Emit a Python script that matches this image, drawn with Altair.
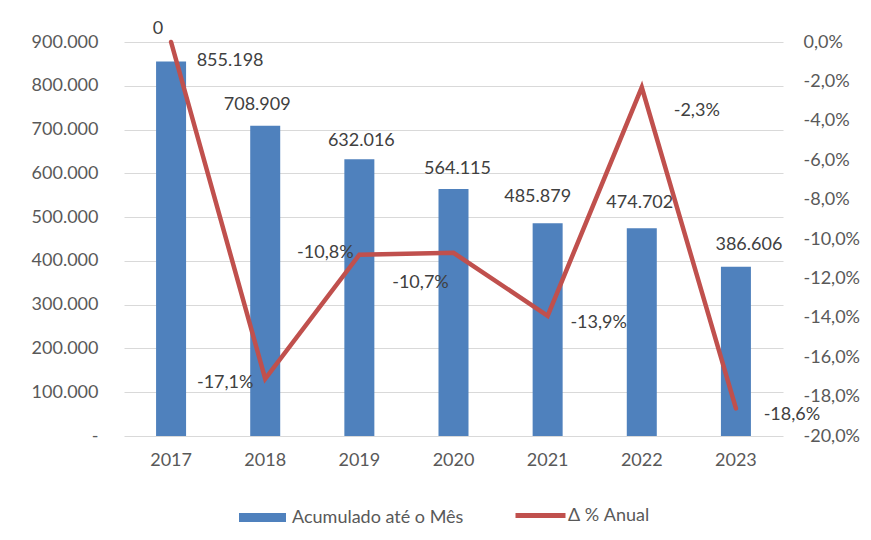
import altair as alt
import pandas as pd

# ---- data ----
anos = ["2017", "2018", "2019", "2020", "2021", "2022", "2023"]
acumulado = [855198, 708909, 632016, 564115, 485879, 474702, 386606]
variacao_pct = [0.0, -17.1, -10.8, -10.7, -13.9, -2.3, -18.6]
rotulos_barras = ["855.198", "708.909", "632.016", "564.115", "485.879", "474.702", "386.606"]
rotulos_linha = ["0", "-17,1%", "-10,8%", "-10,7%", "-13,9%", "-2,3%", "-18,6%"]
serie_barras = "Acumulado até o Mês"
serie_linha = "Δ % Anual"
ticks_esq = [0, 100000, 200000, 300000, 400000, 500000, 600000, 700000, 800000, 900000]
ticks_dir = [0.0, -0.02, -0.04, -0.06, -0.08, -0.10, -0.12, -0.14, -0.16, -0.18, -0.20]

df = pd.DataFrame({
    "ano": anos,
    "acum": acumulado,
    "var": [v / 100 for v in variacao_pct],
    "rb": rotulos_barras,
    "rl": rotulos_linha,
})

# label offsets (style only)
off_barras = {"2017": (59, -1), "2018": (-8, -21), "2019": (2, -18), "2020": (4, -20),
              "2021": (-10, -26), "2022": (-2, -25), "2023": (13, -22)}
off_linha = {"2017": (-13, -13), "2018": (-40, 4), "2019": (-34, -2), "2020": (-33, 30),
             "2021": (51, 7), "2022": (55, 24), "2023": (56, 7)}

FONT = "Lato"
AX = "#595959"
LBL = "#404040"
BLUE = "#4F81BD"
RED = "#C0504D"

base = alt.Chart(df)
xenc = alt.X("ano:N", sort=anos, title=None,
             scale=alt.Scale(paddingInner=0, paddingOuter=0),
             axis=alt.Axis(labelFont=FONT, labelFontSize=18, labelColor=AX, ticks=False,
                           domain=False, labelPadding=15, labelAngle=0))

yl_enc = alt.Y("acum:Q", scale=alt.Scale(domain=[0, 900000], nice=False, zero=True), title=None,
               axis=alt.Axis(values=ticks_esq, orient="left", grid=True, gridColor="#D9D9D9",
                             gridWidth=1, ticks=False, domain=False, labelPadding=26,
                             labelFont=FONT, labelFontSize=18, labelColor=AX,
                             labelExpr="datum.value == 0 ? '-' : replace(format(datum.value, ','), ',', '.')"))
yr_enc = alt.Y("var:Q", scale=alt.Scale(domain=[-0.2, 0.0], nice=False, zero=False), title=None,
               axis=alt.Axis(values=ticks_dir, orient="right", grid=False, ticks=False, domain=False,
                             labelPadding=20, labelFont=FONT, labelFontSize=18, labelColor=AX,
                             labelExpr="replace(replace(format(datum.value, '.1%'), '.', ','), '\u2212', '-')"))

bars = base.transform_calculate(serie="'" + serie_barras + "'").mark_bar(size=30).encode(
    x=xenc,
    y=yl_enc,
    color=alt.Color("serie:N", scale=alt.Scale(domain=[serie_barras], range=[BLUE]),
                    legend=alt.Legend(title=None, orient="none", legendX=115, legendY=452,
                                      direction="horizontal", padding=0,
                                      symbolType="M-1,-0.19L1,-0.19L1,0.19L-1,0.19Z",
                                      symbolSize=2209, symbolStrokeWidth=0, symbolOpacity=1,
                                      labelOffset=6, labelLimit=400, labelFont=FONT,
                                      labelFontSize=18, labelColor=AX)),
)

bar_texts = []
for a in anos:
    dx, dy = off_barras[a]
    bar_texts.append(
        base.transform_filter(alt.datum.ano == a).mark_text(
            font=FONT, fontSize=18, color=LBL, align="center", baseline="middle", dx=dx, dy=dy
        ).encode(x=xenc, y=yl_enc, text="rb:N")
    )

line = base.transform_calculate(serie="'" + serie_linha + "'").mark_line(
    strokeWidth=4.5, strokeCap="round").encode(
    x=xenc,
    y=yr_enc,
    stroke=alt.Stroke("serie:N", scale=alt.Scale(domain=[serie_linha], range=[RED]),
                      legend=alt.Legend(title=None, orient="none", legendX=389, legendY=446,
                                        direction="horizontal", padding=0, symbolType="stroke",
                                        symbolSize=2500, symbolStrokeWidth=5, labelOffset=0,
                                        labelLimit=400, labelFont=FONT, labelFontSize=18,
                                        labelColor=AX)),
)

line_texts = []
for a in anos:
    dx, dy = off_linha[a]
    line_texts.append(
        base.transform_filter(alt.datum.ano == a).mark_text(
            font=FONT, fontSize=18, color=LBL, align="center", baseline="middle", dx=dx, dy=dy
        ).encode(x=xenc, y=yr_enc, text="rl:N")
    )

left = alt.layer(bars, *bar_texts)
right = alt.layer(line, *line_texts)

chart = alt.layer(left, right).resolve_scale(
    y="independent", color="independent", stroke="independent"
).properties(
    width=659, height=394,
    background="white",
    autosize=alt.AutoSizeParams(type="none"),
    padding={"left": 116, "top": 34, "right": 80, "bottom": 96},
).configure_view(stroke=None)

chart.save("out.html", embed_options={"renderer": "svg", "actions": False})
